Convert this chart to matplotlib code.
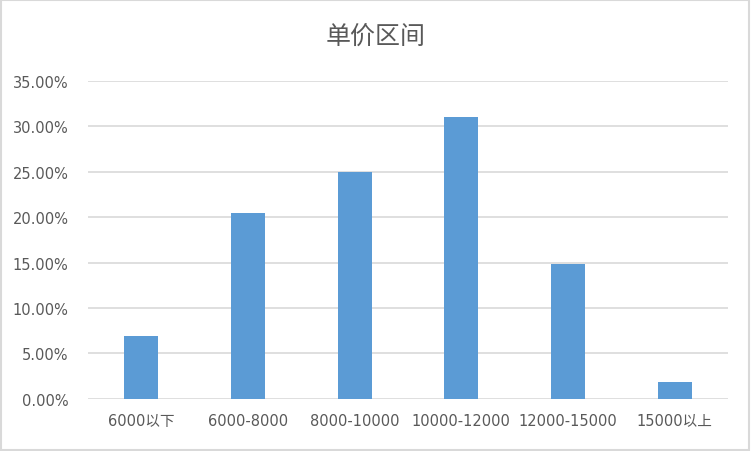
import matplotlib.pyplot as plt
from matplotlib.ticker import PercentFormatter
from matplotlib.patches import Rectangle

plt.rcParams['font.family'] = ['DejaVu Sans', 'Noto Sans CJK SC']

categories = ['6000以下', '6000-8000', '8000-10000', '10000-12000', '12000-15000', '15000以上']
shares = [0.0694, 0.2046, 0.2497, 0.3103, 0.1487, 0.0187]

fig = plt.figure(figsize=(7.51, 4.52), dpi=100)
ax = fig.add_axes([88 / 751, 52.3 / 452, 640 / 751, 317.7 / 452])

ax.bar(range(len(categories)), shares, width=0.32, color='#5b9bd5', zorder=3)

ax.set_xlim(-0.5, len(categories) - 0.5)
ax.set_ylim(0, 0.35)
ax.set_yticks([i * 0.05 for i in range(8)])
ax.yaxis.set_major_formatter(PercentFormatter(1.0, decimals=2))
ax.set_xticks(range(len(categories)))
ax.set_xticklabels(categories)

ax.grid(axis='y', color='#d9d9d9', linewidth=1.2, zorder=0)
for s in ax.spines.values():
    s.set_visible(False)
ax.tick_params(length=0, colors='#595959', labelsize=10.5)
ax.tick_params(axis='y', pad=14)
ax.tick_params(axis='x', pad=10)

fig.text(0.5, 1 - 37 / 452, '单价区间', ha='center', va='center',
         fontsize=18, color='#595959', family=['Noto Sans CJK SC'])

# outer frame like the Excel chart area
fig.patches.append(Rectangle((0.001, 0.002), 0.997, 0.996, transform=fig.transFigure,
                             fill=False, edgecolor='#d9d9d9', linewidth=1.5))

fig.savefig('out.png', dpi=100)
